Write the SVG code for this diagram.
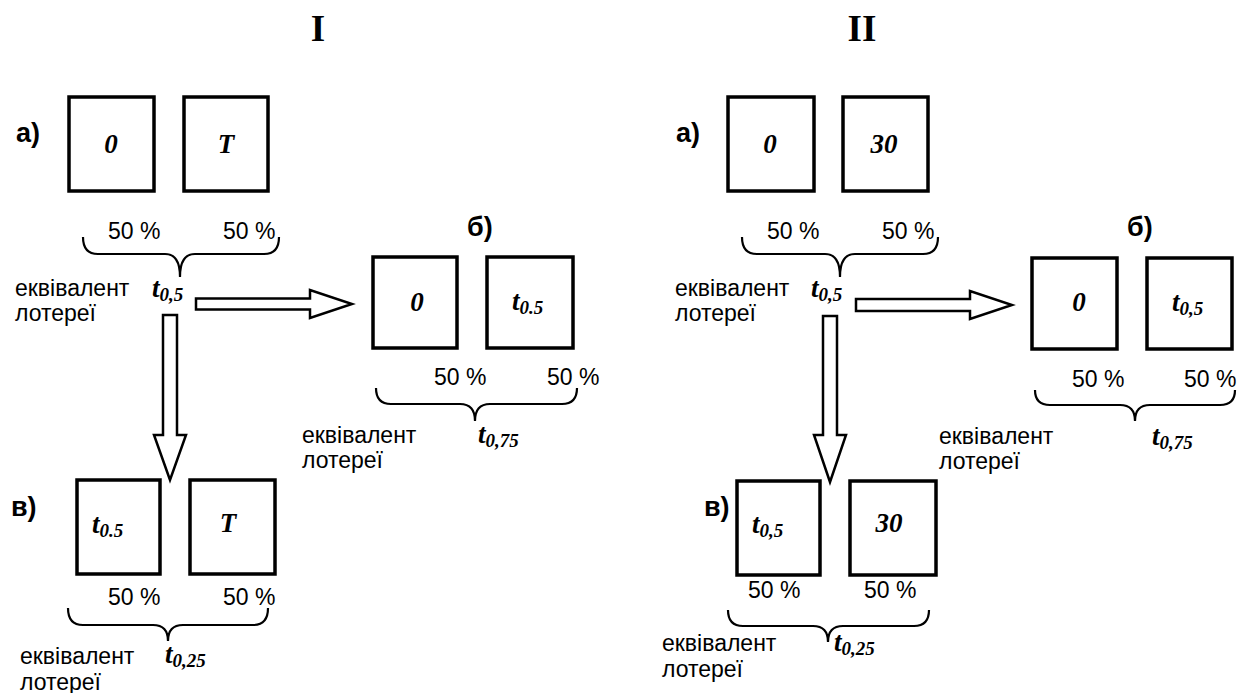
<svg xmlns="http://www.w3.org/2000/svg" width="1237" height="693" viewBox="0 0 1237 693">
<style>
.box{fill:#fff;stroke:#000;stroke-width:3.5}
.brace{fill:none;stroke:#000;stroke-width:2.2}
.arrow{fill:#fff;stroke:#000;stroke-width:2.5;stroke-linejoin:miter}
.lbl{font-family:"Liberation Sans",Arial,sans-serif;font-size:23px;fill:#000}
.tag{font-family:"Liberation Sans",Arial,sans-serif;font-size:27px;font-weight:bold;fill:#000}
.val{font-family:"Liberation Serif","Times New Roman",serif;font-size:27px;font-weight:bold;font-style:italic;fill:#000}
.sub{font-size:19px}
.title{font-family:"Liberation Serif","Times New Roman",serif;font-size:37px;font-weight:bold;fill:#000}
</style>
<rect width="1237" height="693" fill="#fff"/>

<g id="titles">
<text class="title" x="318" y="41" text-anchor="middle">I</text>
<text class="title" x="862" y="41" text-anchor="middle">II</text>
</g>

<!-- Panel I -->
<g id="I-a">
<text class="tag" x="16" y="142">а)</text>
<rect class="box" x="69" y="97" width="85" height="94"/>
<rect class="box" x="184" y="97" width="84" height="94"/>
<text class="val" x="111" y="153" text-anchor="middle">0</text>
<text class="val" x="226" y="153" text-anchor="middle">T</text>
<text class="lbl" x="108" y="239">50 %</text>
<text class="lbl" x="223" y="239">50 %</text>
<path class="brace" d="M83,237 Q83,254 98,254 L165,254 Q180,254 180,277 Q180,254 195,254 L264,254 Q279,254 279,237"/>
<text class="lbl" x="15" y="296">еквівалент</text>
<text class="lbl" x="15" y="321">лотереї</text>
<text class="val" x="152" y="297">t<tspan class="sub" dy="4">0,5</tspan></text>
</g>

<g id="I-b">
<text class="tag" x="467" y="236">б)</text>
<rect class="box" x="373" y="257" width="84" height="91"/>
<rect class="box" x="487" y="257" width="86" height="91"/>
<text class="val" x="417" y="311" text-anchor="middle">0</text>
<text class="val" x="512" y="310">t<tspan class="sub" dy="4">0.5</tspan></text>
<text class="lbl" x="434" y="385">50 %</text>
<text class="lbl" x="547" y="385">50 %</text>
<path class="brace" d="M376,388 Q376,404 391,404 L460,404 Q475,404 475,421 Q475,404 490,404 L562,404 Q577,404 577,388"/>
<text class="lbl" x="302" y="443">еквівалент</text>
<text class="lbl" x="302" y="468">лотереї</text>
<text class="val" x="478" y="443">t<tspan class="sub" dy="4">0,75</tspan></text>
</g>

<g id="I-c">
<text class="tag" x="11" y="516">в)</text>
<rect class="box" x="77" y="480" width="83" height="94"/>
<rect class="box" x="190" y="480" width="85" height="94"/>
<text class="val" x="92" y="533">t<tspan class="sub" dy="4">0.5</tspan></text>
<text class="val" x="228" y="532" text-anchor="middle">T</text>
<text class="lbl" x="108" y="605">50 %</text>
<text class="lbl" x="223" y="605">50 %</text>
<path class="brace" d="M68,608 Q68,625 83,625 L153,625 Q168,625 168,641 Q168,625 183,625 L253,625 Q268,625 268,608"/>
<text class="lbl" x="20" y="664">еквівалент</text>
<text class="lbl" x="20" y="690">лотереї</text>
<text class="val" x="165" y="663">t<tspan class="sub" dy="4">0,25</tspan></text>
</g>

<!-- Panel II -->
<g id="II-a">
<text class="tag" x="676" y="142">а)</text>
<rect class="box" x="728" y="97" width="86" height="94"/>
<rect class="box" x="843" y="97" width="85" height="94"/>
<text class="val" x="770" y="153" text-anchor="middle">0</text>
<text class="val" x="884" y="153" text-anchor="middle">30</text>
<text class="lbl" x="767" y="239">50 %</text>
<text class="lbl" x="882" y="239">50 %</text>
<path class="brace" d="M742,237 Q742,254 757,254 L825,254 Q840,254 840,277 Q840,254 855,254 L923,254 Q938,254 938,237"/>
<text class="lbl" x="675" y="296">еквівалент</text>
<text class="lbl" x="675" y="321">лотереї</text>
<text class="val" x="811" y="297">t<tspan class="sub" dy="4">0,5</tspan></text>
</g>

<g id="II-b">
<text class="tag" x="1127" y="236">б)</text>
<rect class="box" x="1032" y="258" width="85" height="91"/>
<rect class="box" x="1147" y="258" width="85" height="91"/>
<text class="val" x="1079" y="311" text-anchor="middle">0</text>
<text class="val" x="1172" y="311">t<tspan class="sub" dy="4">0,5</tspan></text>
<text class="lbl" x="1072" y="387">50 %</text>
<text class="lbl" x="1184" y="387">50 %</text>
<path class="brace" d="M1035,390 Q1035,405 1050,405 L1120,405 Q1135,405 1135,421 Q1135,405 1150,405 L1220,405 Q1235,405 1235,390"/>
<text class="lbl" x="939" y="444">еквівалент</text>
<text class="lbl" x="939" y="469">лотереї</text>
<text class="val" x="1152" y="445">t<tspan class="sub" dy="4">0,75</tspan></text>
</g>

<g id="II-c">
<text class="tag" x="704" y="516">в)</text>
<rect class="box" x="737" y="481" width="83" height="94"/>
<rect class="box" x="850" y="481" width="86" height="94"/>
<text class="val" x="752" y="533">t<tspan class="sub" dy="4">0,5</tspan></text>
<text class="val" x="889" y="532" text-anchor="middle">30</text>
<text class="lbl" x="748" y="598">50 %</text>
<text class="lbl" x="864" y="598">50 %</text>
<path class="brace" d="M728,610 Q728,626 743,626 L813,626 Q828,626 828,642 Q828,626 843,626 L914,626 Q929,626 929,610"/>
<text class="lbl" x="662" y="651">еквівалент</text>
<text class="lbl" x="662" y="677">лотереї</text>
<text class="val" x="834" y="651">t<tspan class="sub" dy="4">0,25</tspan></text>
</g>

<g id="connectors">
<path class="arrow" d="M196,298.5 L310,298.5 L310,290 L352,304 L310,318 L310,309.5 L196,309.5 Z"/>
<path class="arrow" d="M163,315 L177,315 L177,435 L186,435 L170,480 L154,435 L163,435 Z"/>
<path class="arrow" d="M856,299 L970,299 L970,291 L1012,305 L970,319 L970,311 L856,311 Z"/>
<path class="arrow" d="M823,316 L837,316 L837,435 L846,435 L830,482 L814,435 L823,435 Z"/>
</g>
</svg>
